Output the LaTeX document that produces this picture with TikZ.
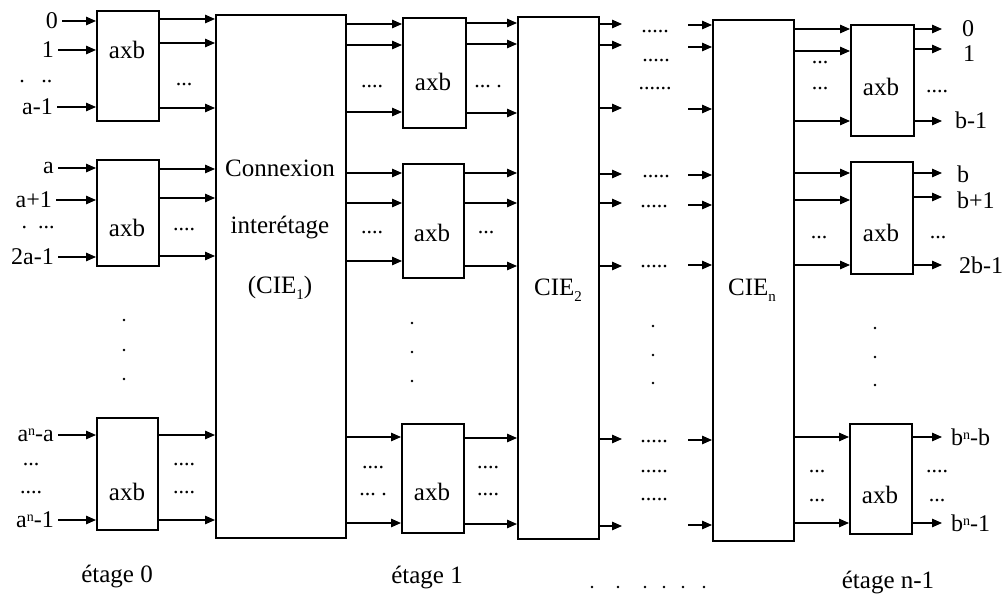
\documentclass[tikz,border=0pt]{standalone}
\usepackage{fontspec}
\setmainfont{Liberation Serif}
\usetikzlibrary{arrows.meta}
\newcommand\mysup[1]{\raisebox{0.55ex}{\fontsize{14}{14}\selectfont #1}}
\newcommand\mysub[1]{\raisebox{-0.5ex}{\fontsize{15}{15}\selectfont #1}}
\begin{document}
\begin{tikzpicture}[x=1pt,y=-1pt,
  box/.style={draw, line width=1.6pt, anchor=north west, inner sep=0pt},
  arr/.style={line width=1.3pt, -{Triangle[length=10pt,width=8.5pt]}},
  lab/.style={font=\fontsize{24}{26}\selectfont, inner sep=0pt},
  inl/.style={lab, anchor=east, inner xsep=4pt},
  outl/.style={lab, anchor=west},
  txt/.style={font=\fontsize{25}{27}\selectfont, inner sep=0pt},
  dotstxt/.style={font=\fontsize{22}{24}\selectfont, inner sep=0pt},
  vdot/.style={fill, circle, inner sep=0pt, minimum size=2.6pt}]
\useasboundingbox (0,0) rectangle (1006,596);

% ---------- boxes ----------
\node[box, minimum width=62pt, minimum height=110pt] (b01) at (96,10) {};
\node[box, minimum width=62pt, minimum height=106pt] (b02) at (96,159) {};
\node[box, minimum width=61pt, minimum height=112pt] (b03) at (96,417) {};
\node[box, minimum width=130pt, minimum height=523pt] (cie1) at (215,14) {};
\node[box, minimum width=63pt, minimum height=110pt] (b11) at (402,17) {};
\node[box, minimum width=61pt, minimum height=114pt] (b12) at (402,163) {};
\node[box, minimum width=62pt, minimum height=109pt] (b13) at (401,423) {};
\node[box, minimum width=81pt, minimum height=522pt] (cie2) at (517,16) {};
\node[box, minimum width=81pt, minimum height=521pt] (cien) at (712,19) {};
\node[box, minimum width=63pt, minimum height=111pt] (bn1) at (850,24) {};
\node[box, minimum width=62pt, minimum height=112pt] (bn2) at (850,161) {};
\node[box, minimum width=62pt, minimum height=110pt] (bn3) at (849,423) {};

% ---------- box texts ----------
\node[txt] (t01) at (127,50) {axb};
\node[txt] (t02) at (127,228) {axb};
\node[txt] (t03) at (127,492) {axb};
\node[txt] (tc1a) at (280,168) {Connexion};
\node[txt] (tc1b) at (280,228) {interétage};
\node[txt] (tc1c) at (280,288) {(CIE\mysub{1})};
\node[txt] (t11) at (433,82) {axb};
\node[txt] (t12) at (432,233) {axb};
\node[txt] (t13) at (432,492) {axb};
\node[txt] (tc2) at (558,290) {CIE\mysub{2}};
\node[txt] (tcn) at (752,290) {CIE\mysub{n}};
\node[txt] (tn1) at (881,87) {axb};
\node[txt] (tn2) at (881,233) {axb};
\node[txt] (tn3) at (880,495) {axb};

% ---------- stage 0 inputs ----------
\node[inl] (i0) at (62,21) {0};
\node[inl] (i1) at (58,50) {1};
\node[inl] (ia1) at (57,107) {a-1};
\node[inl] (ia) at (58,168) {a};
\node[inl] (iap) at (56,200) {a+1};
\node[inl] (i2a) at (58,257) {2a-1};
\node[inl] (ina) at (58,435) {a\mysup{n}-a};
\node[inl] (in1) at (58,520) {a\mysup{n}-1};
\draw[arr] (i0.east) -- (i0.east -| b01.west);
\draw[arr] (i1.east) -- (i1.east -| b01.west);
\draw[arr] (ia1.east) -- (ia1.east -| b01.west);
\draw[arr] (ia.east) -- (ia.east -| b02.west);
\draw[arr] (iap.east) -- (iap.east -| b02.west);
\draw[arr] (i2a.east) -- (i2a.east -| b02.west);
\draw[arr] (ina.east) -- (ina.east -| b03.west);
\draw[arr] (in1.east) -- (in1.east -| b03.west);
\node[dotstxt] (d0a) at (36,82) {.\ \ \ ..};
\node[dotstxt] (d0b) at (38,228) {.\ \ ...};
\node[dotstxt] (d0c) at (31,465) {...};
\node[dotstxt] (d0d) at (31,493) {....};

% ---------- stage 0 -> CIE1 ----------
\foreach \y in {19,43,108}{\draw[arr] (b01.east |- 0,\y) -- (cie1.west |- 0,\y);}
\foreach \y in {169,198,256}{\draw[arr] (b02.east |- 0,\y) -- (cie1.west |- 0,\y);}
\foreach \y in {435,520}{\draw[arr] (b03.east |- 0,\y) -- (cie1.west |- 0,\y);}
\node[dotstxt] (d1a) at (184,85) {...};
\node[dotstxt] (d1b) at (184,230) {....};
\node[dotstxt] (d1c) at (184,465) {....};
\node[dotstxt] (d1d) at (184,493) {....};
\foreach \y [count=\i] in {320,350,379}{\node[vdot] (v0\i) at (124,\y) {};}

% ---------- CIE1 -> stage 1 ----------
\foreach \y in {24,45,112}{\draw[arr] (cie1.east |- 0,\y) -- (b11.west |- 0,\y);}
\foreach \y in {173,203,261}{\draw[arr] (cie1.east |- 0,\y) -- (b12.west |- 0,\y);}
\foreach \y in {437,523}{\draw[arr] (cie1.east |- 0,\y) -- (b13.west |- 0,\y);}
\node[dotstxt] (d2a) at (372,87) {....};
\node[dotstxt] (d2b) at (372,233) {....};
\node[dotstxt] (d2c) at (373,468) {....};
\node[dotstxt] (d2d) at (373,495) {...\ .};

% ---------- stage 1 -> CIE2 ----------
\foreach \y in {23,44,113}{\draw[arr] (b11.east |- 0,\y) -- (cie2.west |- 0,\y);}
\foreach \y in {173,203,266}{\draw[arr] (b12.east |- 0,\y) -- (cie2.west |- 0,\y);}
\foreach \y in {438,524}{\draw[arr] (b13.east |- 0,\y) -- (cie2.west |- 0,\y);}
\node[dotstxt] (d3a) at (488,87) {...\ .};
\node[dotstxt] (d3b) at (486,233) {...};
\node[dotstxt] (d3c) at (488,468) {....};
\node[dotstxt] (d3d) at (488,495) {....};
\foreach \y [count=\i] in {323,352,381}{\node[vdot] (v1\i) at (412,\y) {};}

% ---------- CIE2 outputs, gap, CIEn inputs ----------
\foreach \y [count=\i] in {24,45,108,174,203,266,439,526}{
  \coordinate (c2o\i) at (622,\y);
  \draw[arr] (cie2.east |- c2o\i) -- (c2o\i);}
\foreach \y [count=\i] in {25,47,109,175,205,265,440,525}{
  \coordinate (cni\i) at (688,\y);
  \draw[arr] (cni\i) -- (cni\i -| cien.west);}
\node[dotstxt] (m1) at (655,32) {.....};
\node[dotstxt] (m2) at (656,61) {.....};
\node[dotstxt] (m3) at (655,89) {......};
\node[dotstxt] (m4) at (656,177) {.....};
\node[dotstxt] (m5) at (654,207) {.....};
\node[dotstxt] (m6) at (654,267) {.....};
\node[dotstxt] (m7) at (654,442) {.....};
\node[dotstxt] (m8) at (654,472) {.....};
\node[dotstxt] (m9) at (654,500) {.....};
\foreach \y [count=\i] in {326,355,383}{\node[vdot] (v2\i) at (653,\y) {};}
\foreach \x [count=\i] in {592,618,645,664,683,704}{\node[vdot] (hb\i) at (\x,587) {};}

% ---------- CIEn -> stage n-1 ----------
\foreach \y in {29,51,121}{\draw[arr] (cien.east |- 0,\y) -- (bn1.west |- 0,\y);}
\foreach \y in {173,200,265}{\draw[arr] (cien.east |- 0,\y) -- (bn2.west |- 0,\y);}
\foreach \y in {437,523}{\draw[arr] (cien.east |- 0,\y) -- (bn3.west |- 0,\y);}
\node[dotstxt] (d4a) at (820,63) {...};
\node[dotstxt] (d4b) at (820,89) {...};
\node[dotstxt] (d4c) at (819,238) {...};
\node[dotstxt] (d4d) at (817,472) {...};
\node[dotstxt] (d4e) at (817,501) {...};
\foreach \y [count=\i] in {328,357,385}{\node[vdot] (v3\i) at (875,\y) {};}

% ---------- stage n-1 outputs ----------
\foreach \y/\b [count=\i] in {29/bn1,49/bn1,121/bn1,173/bn2,197/bn2,265/bn2,437/bn3,523/bn3}{
  \coordinate (e\i) at (942,\y);
  \draw[arr] (\b.east |- e\i) -- (e\i);}
\node[outl] (o1) at (962,29) {0};
\node[outl] (o2) at (963,54) {1};
\node[outl] (o3) at (955,120) {b-1};
\node[outl] (o4) at (957,174) {b};
\node[outl] (o5) at (957,200) {b+1};
\node[outl] (o6) at (959,265) {2b-1};
\node[outl] (o7) at (951,437) {b\mysup{n}-b};
\node[outl] (o8) at (951,523) {b\mysup{n}-1};
\node[dotstxt] (d5a) at (937,92) {....};
\node[dotstxt] (d5b) at (938,238) {...};
\node[dotstxt] (d5c) at (937,472) {....};
\node[dotstxt] (d5d) at (937,501) {...};

% ---------- stage labels ----------
\node[txt] (s0) at (117,577) {étage 0};
\node[txt] (s1) at (427,578) {étage 1};
\node[txt] (sn) at (888,583) {étage n-1};
\end{tikzpicture}
\end{document}
